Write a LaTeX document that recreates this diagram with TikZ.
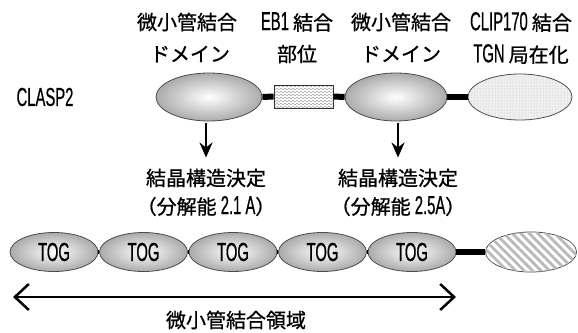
\documentclass[tikz,border=0pt]{standalone}
\usepackage{fontspec}
\setmainfont{Liberation Sans}[FakeStretch=0.57,FakeBold=0.6]
\newfontfamily\cjk{Noto Sans CJK JP}[FakeBold=0.9]
\usetikzlibrary{shapes.geometric,arrows.meta,patterns,patterns.meta}
\newcommand\jp[1]{{\cjk\fontsize{20}{24}\selectfont #1}}
\begin{document}
\begin{tikzpicture}[x=1pt,y=-1pt,
  lbl/.style={inner sep=0pt,font=\fontsize{26}{28}\selectfont},
  dom/.style={ellipse,draw=black!70,line width=0.8pt,inner sep=0pt,
    shading=radial,inner color=white,outer color=black!33},
  bar/.style={line width=6pt},
  downarr/.style={line width=2.2pt,-{Stealth[length=15pt,width=13pt]}},
  dbl/.style={line width=2.5pt,{Straight Barb[length=14pt,width=26pt]}-{Straight Barb[length=14pt,width=26pt]}}]
\useasboundingbox (0,0) rectangle (578,332);
% top labels
\node[lbl] (t1a) at (187,22) {\jp{微小管結合}};
\node[lbl] (t1b) at (190,54) {\jp{ドメイン}};
\node[lbl] (t2a) at (297,22) {EB1 \jp{結合}};
\node[lbl] (t2b) at (297,54) {\jp{部位}};
\node[lbl] (t3a) at (401,22) {\jp{微小管結合}};
\node[lbl] (t3b) at (401,54) {\jp{ドメイン}};
\node[lbl] (t4a) at (521,22) {CLIP170 \jp{結合}};
\node[lbl] (t4b) at (521,54) {TGN \jp{局在化}};
\node[lbl] (clasp) at (45,97) {CLASP2};
% CLASP2 row
\node[dom,minimum width=106,minimum height=48] (d1) at (209,97) {};
\node[draw=black!80,line width=0.8pt,minimum width=59,minimum height=23,inner sep=0pt] (eb) at (303.5,96.5) {};
\begin{scope}
  \clip (eb.south west) rectangle (eb.north east);
  \foreach \yy in {86,89,...,108}
    \draw[gray!75,line width=0.45pt] plot[domain=0:60,samples=90,smooth] ({\x+274},{\yy+0.9*sin(\x*90)});
\end{scope}
\node[draw=black!80,line width=0.8pt,minimum width=59,minimum height=23,inner sep=0pt] at (eb) {};
\node[dom,minimum width=102,minimum height=48] (d2) at (396,97) {};
\node[ellipse,draw=black!70,line width=0.8pt,inner sep=0pt,fill=gray!12,
  postaction={pattern=dots,pattern color=gray!60},
  minimum width=104,minimum height=46] (d3) at (520,97) {};
\draw[bar] (d1.east) -- (eb.west);
\draw[bar] (eb.east) -- (d2.west);
\draw[bar] (d2.east) -- (d3.west);
% arrows and results
\node[lbl] (r1a) at (206,178) {\jp{結晶構造決定}};
\node[lbl] (r1b) at (206,206) {\jp{（分解能} 2.1 A\jp{）}};
\node[lbl] (r2a) at (398,178) {\jp{結晶構造決定}};
\node[lbl] (r2b) at (398,206) {\jp{（分解能} 2.5A\jp{）}};
\draw[downarr,shorten <=2pt,shorten >=11pt] (r1a.north |- d1.south) -- (r1a.north);
\draw[downarr,shorten <=2pt,shorten >=11pt] (r2a.north |- d2.south) -- (r2a.north);
% TOG row
\foreach \i/\xx in {1/54,2/143.5,3/233,4/322.5,5/412}
  \node[dom,minimum width=88,minimum height=39,font=\fontsize{26}{28}\selectfont] (g\i) at (\xx,252) {TOG};
\foreach \a/\b in {1/2,2/3,3/4,4/5}
  \draw[line width=4pt] (g\a.east) -- (g\b.west);
\node[ellipse,draw=black!70,line width=0.8pt,inner sep=0pt,fill=white,
  postaction={pattern={Lines[angle=-45,distance=6pt,line width=2.8pt]},pattern color=gray!55},
  minimum width=91,minimum height=40] (h) at (531,252) {};
\draw[bar] (g5.east) -- (h.west);
% bottom
\coordinate (aL) at (13,297);
\coordinate (aR) at (456,297);
\draw[dbl] (aL) -- (aR);
\node[lbl] (mt) at (236,320) {\jp{微小管結合領域}};
\end{tikzpicture}
\end{document}
